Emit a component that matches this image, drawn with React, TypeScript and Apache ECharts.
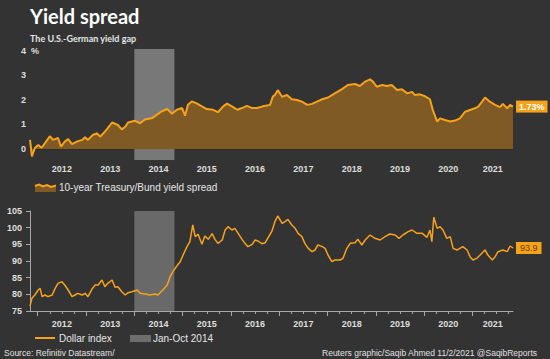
import React, { useEffect, useRef } from 'react';
import * as echarts from 'echarts';

// 10-year Treasury/Bund yield spread (%), dates as decimal years
const spreadDates = [
  2011.84, 2011.88, 2011.94, 2012.01, 2012.08, 2012.15, 2012.25, 2012.32, 2012.42, 2012.48,
  2012.56, 2012.63, 2012.71, 2012.81, 2012.92, 2012.98, 2013.04, 2013.14, 2013.23, 2013.29,
  2013.39, 2013.45, 2013.54, 2013.6, 2013.66, 2013.74, 2013.81, 2013.87, 2013.95, 2014.01,
  2014.12, 2014.22, 2014.37, 2014.47, 2014.57, 2014.68, 2014.78, 2014.88, 2014.99, 2015.05,
  2015.11, 2015.19, 2015.3, 2015.4, 2015.5, 2015.63, 2015.73, 2015.84, 2015.92, 2016.02,
  2016.13, 2016.23, 2016.33, 2016.44, 2016.54, 2016.66, 2016.81, 2016.87, 2016.91, 2016.97,
  2017.06, 2017.16, 2017.26, 2017.37, 2017.47, 2017.58, 2017.68, 2017.78, 2017.89, 2018.01,
  2018.15, 2018.3, 2018.42, 2018.57, 2018.67, 2018.78, 2018.88, 2018.94, 2019.02, 2019.13,
  2019.23, 2019.33, 2019.44, 2019.54, 2019.65, 2019.75, 2019.81, 2019.91, 2020.02, 2020.12,
  2020.18, 2020.27, 2020.33, 2020.43, 2020.54, 2020.64, 2020.74, 2020.85, 2020.95, 2021.05,
  2021.12, 2021.2, 2021.26, 2021.36, 2021.47, 2021.57, 2021.63, 2021.72, 2021.78, 2021.84,
];
const spreadValues = [
  0.37, -0.3, 0.04, 0.16, 0.05, 0.24, 0.52, 0.37, 0.45, 0.1,
  0.3, 0.4, 0.2, 0.3, 0.37, 0.48, 0.37, 0.57, 0.64, 0.5,
  0.71, 0.85, 1.08, 1.03, 0.98, 0.8, 0.9, 1.08, 1.12, 1.15,
  1.05, 1.2, 1.26, 1.4, 1.54, 1.63, 1.44, 1.6, 1.67, 1.36,
  1.8, 1.94, 1.85, 1.74, 1.63, 1.6, 1.5, 1.74, 1.85, 1.74,
  1.6, 1.67, 1.76, 1.67, 1.67, 1.74, 1.8, 2.15, 2.2, 2.4,
  2.13, 2.2, 2.03, 2.0, 1.93, 1.8, 1.84, 1.93, 2.03, 2.1,
  2.27, 2.44, 2.61, 2.65, 2.57, 2.75, 2.84, 2.75, 2.54, 2.61,
  2.57, 2.61, 2.41, 2.44, 2.27, 2.33, 2.2, 2.23, 2.15, 2.03,
  1.59, 1.12, 1.25, 1.18, 1.12, 1.16, 1.25, 1.52, 1.59, 1.66,
  1.73, 1.93, 2.1, 1.93, 1.8, 1.71, 1.84, 1.66, 1.8, 1.73,
];

// Dollar index
const dollarDates = [
  2011.84, 2011.88, 2011.94, 2012.01, 2012.05, 2012.09, 2012.15, 2012.21, 2012.3, 2012.36,
  2012.42, 2012.5, 2012.56, 2012.63, 2012.71, 2012.77, 2012.83, 2012.92, 2012.98, 2013.04,
  2013.12, 2013.19, 2013.25, 2013.33, 2013.39, 2013.45, 2013.54, 2013.6, 2013.66, 2013.74,
  2013.81, 2013.87, 2013.95, 2014.06, 2014.12, 2014.22, 2014.32, 2014.43, 2014.49, 2014.59,
  2014.68, 2014.74, 2014.8, 2014.88, 2014.95, 2015.01, 2015.09, 2015.15, 2015.21, 2015.26,
  2015.32, 2015.4, 2015.46, 2015.53, 2015.61, 2015.67, 2015.73, 2015.82, 2015.88, 2015.94,
  2016.02, 2016.08, 2016.15, 2016.23, 2016.29, 2016.35, 2016.44, 2016.5, 2016.56, 2016.64,
  2016.71, 2016.77, 2016.85, 2016.91, 2016.97, 2017.06, 2017.12, 2017.18, 2017.26, 2017.33,
  2017.39, 2017.47, 2017.53, 2017.6, 2017.68, 2017.74, 2017.8, 2017.89, 2017.95, 2018.01,
  2018.09, 2018.15, 2018.26, 2018.32, 2018.4, 2018.47, 2018.57, 2018.63, 2018.71, 2018.78,
  2018.88, 2018.98, 2019.09, 2019.19, 2019.29, 2019.4, 2019.48, 2019.56, 2019.67, 2019.75,
  2019.85, 2019.96, 2020.06, 2020.12, 2020.16, 2020.2, 2020.27, 2020.33, 2020.39, 2020.47,
  2020.54, 2020.6, 2020.68, 2020.74, 2020.8, 2020.89, 2020.95, 2021.01, 2021.09, 2021.16,
  2021.26, 2021.32, 2021.41, 2021.47, 2021.53, 2021.63, 2021.72, 2021.78, 2021.84,
];
const dollarValues = [
  76.5, 78.8, 79.8, 81.3, 81.8, 79.3, 79.8, 79.3, 79.8, 81.8,
  83.3, 83.8, 82.8, 81.3, 79.3, 79.8, 80.3, 79.8, 80.3, 79.3,
  81.5, 82.8, 82.8, 84.3, 82.3, 83.3, 84.3, 82.1, 82.3, 80.8,
  79.8, 80.5, 80.8, 81.3, 80.3, 80.1, 79.8, 80.1, 79.8, 81.3,
  82.8, 85.3, 86.8, 88.5, 89.8, 91.8, 94.3, 95.8, 100.8, 97.3,
  98.0, 95.0, 97.5, 96.5, 98.2, 96.5, 95.3, 96.3, 99.3, 100.3,
  99.3, 99.8, 98.3, 96.5, 95.3, 94.3, 95.0, 96.3, 96.0, 95.2,
  95.5, 97.0, 99.0, 101.8, 103.5, 101.3, 101.8, 102.5, 100.8, 99.8,
  98.3, 97.3, 95.3, 93.8, 92.8, 93.3, 94.8, 94.3, 93.8, 91.8,
  89.8, 90.3, 90.3, 90.8, 93.8, 95.3, 95.5, 96.5, 94.8, 96.3,
  97.8, 96.8, 96.3, 97.3, 98.1, 97.8, 96.8, 97.8, 98.8, 99.3,
  98.3, 98.3, 97.1, 99.3, 95.8, 103.1, 99.8, 100.3, 99.3, 96.8,
  97.3, 93.8, 93.3, 93.8, 94.3, 93.3, 91.3, 90.3, 90.8, 91.8,
  93.3, 91.8, 90.3, 91.3, 92.8, 93.3, 92.8, 94.5, 93.9,
];

const xMin = 2011.84;
const xMax = 2021.84;
const yearTicks = [2012, 2013, 2014, 2015, 2016, 2017, 2018, 2019, 2020, 2021];
const quarterTicks = [
  2012, 2012.25, 2012.5, 2012.75, 2013, 2013.25, 2013.5, 2013.75,
  2014, 2014.25, 2014.5, 2014.75, 2015, 2015.25, 2015.5, 2015.75,
  2016, 2016.25, 2016.5, 2016.75, 2017, 2017.25, 2017.5, 2017.75,
  2018, 2018.25, 2018.5, 2018.75, 2019, 2019.25, 2019.5, 2019.75,
  2020, 2020.25, 2020.5, 2020.75, 2021, 2021.25, 2021.5, 2021.75,
];
// Year labels are centred in the visible part of each year
const yearLabelPositions = [2012.5, 2013.5, 2014.5, 2015.5, 2016.5, 2017.5, 2018.5, 2019.5, 2020.5, 2021.42];
const spreadTickLabels = [0, 1, 2, 3, 4];
const spreadMin = -0.45;
const spreadMax = 4.08;
const bandStart = 2014.0;
const bandEnd = 2014.83;

const ORANGE = '#f7a21b';
const AREA = '#7f5a24';
const BG = '#333333';
const LABEL = '#dedede';
const FONT = '"Liberation Sans", Arial, sans-serif';

export default function App() {
  const ref = useRef<HTMLDivElement>(null);

  useEffect(() => {
    document.body.style.margin = '0';
    const chart = echarts.init(ref.current!, null, { renderer: 'svg' });

    const spreadData = spreadDates.map((d, i) => [d, spreadValues[i]]);
    const dollarData = dollarDates.map((d, i) => [d, dollarValues[i]]);

    const axisLabelStyle = { color: LABEL, fontSize: 9, fontWeight: 'bold' as const, fontFamily: FONT };

    const topTop = 49;
    const topHeight = 111;
    // helper grid whose bottom edge sits on the spread's zero line
    const zeroGridHeight = (topHeight * spreadMax) / (spreadMax - spreadMin);

    const option: any = {
      animation: false,
      backgroundColor: BG,
      grid: [
        { left: 30, right: 37, top: topTop, height: topHeight },
        { left: 30, right: 37, top: 211, height: 100 },
        { left: 30, right: 37, top: topTop, height: zeroGridHeight },
      ],
      xAxis: [
        {
          type: 'value', gridIndex: 0, min: xMin, max: xMax, show: false,
          splitLine: { show: false },
        },
        {
          type: 'value', gridIndex: 2, min: xMin, max: xMax, position: 'bottom',
          axisLine: { onZero: false, lineStyle: { color: '#2a2a2a', width: 1 } },
          axisTick: { customValues: yearTicks, length: 4, inside: true, lineStyle: { color: '#2a2a2a' } },
          axisLabel: { ...axisLabelStyle, customValues: yearLabelPositions, margin: 16, formatter: (v: number) => String(Math.floor(v)) },
          splitLine: { show: false },
        },
        {
          type: 'value', gridIndex: 2, min: xMin, max: xMax, position: 'bottom',
          axisLine: { show: false, onZero: false },
          axisTick: { customValues: quarterTicks, length: 2.5, inside: true, lineStyle: { color: '#2a2a2a' } },
          axisLabel: { show: false },
          splitLine: { show: false },
        },
        {
          type: 'value', gridIndex: 1, min: xMin, max: xMax, position: 'bottom',
          axisLine: { onZero: false, lineStyle: { color: '#a8a8a8', width: 1 } },
          axisTick: { customValues: yearTicks, length: 5, lineStyle: { color: '#a8a8a8' } },
          axisLabel: { ...axisLabelStyle, customValues: yearLabelPositions, margin: 8, formatter: (v: number) => String(Math.floor(v)) },
          splitLine: { show: false },
        },
        {
          type: 'value', gridIndex: 1, min: xMin, max: xMax, position: 'bottom',
          axisLine: { show: false, onZero: false },
          axisTick: { customValues: quarterTicks, length: 3, lineStyle: { color: '#a8a8a8' } },
          axisLabel: { show: false },
          splitLine: { show: false },
        },
      ],
      yAxis: [
        {
          type: 'value', gridIndex: 0, min: spreadMin, max: spreadMax,
          axisLine: { show: false }, axisTick: { show: false }, splitLine: { show: false },
          axisLabel: { ...axisLabelStyle, customValues: spreadTickLabels, margin: 4 },
        },
        {
          type: 'value', gridIndex: 1, min: 75, max: 105, interval: 5,
          axisLine: { show: true, lineStyle: { color: '#a8a8a8' } },
          axisTick: { show: true, length: 4, lineStyle: { color: '#a8a8a8' } },
          splitLine: { show: false },
          axisLabel: { ...axisLabelStyle, margin: 8 },
        },
        {
          type: 'value', gridIndex: 2, min: 0, max: spreadMax, show: false,
          splitLine: { show: false },
        },
      ],
      series: [
        {
          type: 'line', xAxisIndex: 0, yAxisIndex: 0, data: spreadData, symbol: 'none', silent: true,
          lineStyle: { width: 0 }, areaStyle: { color: AREA, opacity: 1 }, z: 1,
        },
        {
          type: 'line', xAxisIndex: 0, yAxisIndex: 0, data: [], symbol: 'none', silent: true, z: 2,
          markArea: {
            silent: true,
            itemStyle: { color: 'rgba(190,190,190,0.5)' },
            data: [[{ xAxis: bandStart }, { xAxis: bandEnd }]],
          },
        },
        {
          type: 'line', xAxisIndex: 0, yAxisIndex: 0, data: spreadData, symbol: 'none', silent: true, z: 3,
          lineStyle: { color: ORANGE, width: 2 },
          endLabel: {
            show: true, distance: 3,
            formatter: (p: any) => `${p.value[1].toFixed(2)}%`,
            backgroundColor: ORANGE, color: '#ffffff', fontSize: 9, fontWeight: 'bold', fontFamily: FONT,
            padding: [2, 3, 1, 3],
          },
        },
        {
          type: 'line', xAxisIndex: 3, yAxisIndex: 1, data: [], symbol: 'none', silent: true, z: 1,
          markArea: {
            silent: true,
            itemStyle: { color: 'rgba(150,150,150,0.55)' },
            data: [[{ xAxis: bandStart }, { xAxis: bandEnd }]],
          },
        },
        {
          type: 'line', xAxisIndex: 3, yAxisIndex: 1, data: dollarData, symbol: 'none', silent: true, z: 2,
          lineStyle: { color: ORANGE, width: 1.5 },
          endLabel: {
            show: true, distance: 3,
            formatter: (p: any) => p.value[1].toFixed(1),
            backgroundColor: ORANGE, color: '#6a4010', fontSize: 9, fontFamily: FONT,
            padding: [2, 4, 1, 4],
          },
        },
      ],
      graphic: [
        { type: 'text', x: 30, y: 16, style: { text: 'Yield spread', fill: '#ffffff', font: 'bold 20px Lato, sans-serif', textVerticalAlign: 'middle' } },
        { type: 'text', x: 30, y: 38, style: { text: 'The U.S.-German yield gap', fill: '#e6e6e6', font: 'bold 9px Lato, sans-serif', textVerticalAlign: 'middle' } },
        { type: 'text', x: 31, y: 51, style: { text: '%', fill: LABEL, font: `bold 9px ${FONT}`, textVerticalAlign: 'middle' } },
        { type: 'rect', shape: { x: 35, y: 186, width: 21, height: 6 }, style: { fill: AREA } },
        { type: 'polyline', shape: { points: [[35, 186], [39, 184.5], [43, 186.5], [47, 185], [51, 187], [56, 185.5]] }, style: { stroke: ORANGE, lineWidth: 2, fill: 'none' } },
        { type: 'text', x: 59, y: 187, style: { text: '10-year Treasury/Bund yield spread', fill: '#e6e6e6', font: `10px ${FONT}`, textVerticalAlign: 'middle' } },
        { type: 'line', shape: { x1: 35, y1: 338, x2: 55, y2: 338 }, style: { stroke: ORANGE, lineWidth: 2 } },
        { type: 'text', x: 59, y: 338, style: { text: 'Dollar index', fill: '#e6e6e6', font: `10px ${FONT}`, textVerticalAlign: 'middle' } },
        { type: 'rect', shape: { x: 130, y: 335, width: 21, height: 7 }, style: { fill: '#6e6e6e' } },
        { type: 'text', x: 153, y: 338, style: { text: 'Jan-Oct 2014', fill: '#e6e6e6', font: `10px ${FONT}`, textVerticalAlign: 'middle' } },
        { type: 'text', x: 4, y: 353, style: { text: 'Source: Refinitiv Datastream/', fill: '#e0e0e0', font: `8.5px ${FONT}`, textVerticalAlign: 'middle' } },
        { type: 'text', x: 537, y: 353, style: { text: 'Reuters graphic/Saqib Ahmed 11/2/2021 @SaqibReports', fill: '#e0e0e0', font: `8.5px ${FONT}`, textAlign: 'right', textVerticalAlign: 'middle' } },
      ],
    };

    chart.setOption(option);
    return () => chart.dispose();
  }, []);

  return <div ref={ref} style={{ position: 'fixed', left: 0, top: 0, width: 550, height: 359, background: BG }} />;
}
